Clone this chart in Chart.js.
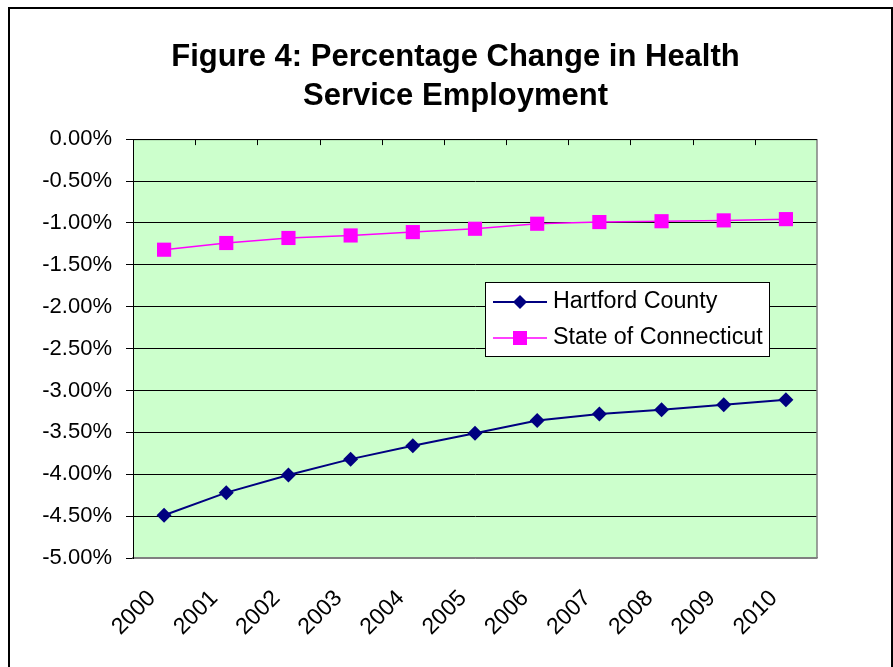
<!DOCTYPE html>
<html>
<head>
<meta charset="utf-8">
<title>Figure 4</title>
<script src="https://cdn.jsdelivr.net/npm/chart.js"></script>
<style>
    html, body { margin: 0; padding: 0; background: #fff; }
    .frame {
        position: absolute; left: 8px; top: 7px; width: 881px; height: 700px;
        border: 2px solid #000;
    }
    .wrap { position: absolute; left: 0; top: 0; width: 893px; height: 667px; }
</style>
</head>
<body>
<div class="frame"></div>
<div class="wrap"><canvas id="healthChart"></canvas></div>
<script>
// Chart data
const years = ['2000', '2001', '2002', '2003', '2004', '2005', '2006', '2007', '2008', '2009', '2010'];
const hartfordCounty = [-4.49, -4.22, -4.01, -3.82, -3.66, -3.51, -3.36, -3.28, -3.23, -3.17, -3.11];
const stateOfConnecticut = [-1.32, -1.24, -1.18, -1.15, -1.11, -1.07, -1.01, -0.99, -0.98, -0.97, -0.955];
const yMin = -5, yMax = 0, yStep = 0.5;

const FONT = 'Arial, "Liberation Sans", sans-serif';

// Green plot area, gray right edge, tick marks hanging from the zero line
const plotArea = {
    id: 'plotArea',
    beforeDraw(chart) {
        const { ctx, chartArea: a } = chart;
        ctx.save();
        ctx.fillStyle = '#CCFFCC';
        ctx.fillRect(a.left, a.top, a.right - a.left, a.bottom - a.top);
        ctx.restore();
    },
    beforeDatasetsDraw(chart) {
        const { ctx, chartArea: a } = chart;
        const x = chart.scales.x;
        ctx.save();
        ctx.strokeStyle = '#808080';
        ctx.lineWidth = 1.5;
        ctx.beginPath();
        ctx.moveTo(a.right, a.top);
        ctx.lineTo(a.right, a.bottom);
        ctx.stroke();
        ctx.strokeStyle = '#000';
        ctx.lineWidth = 1;
        ctx.beginPath();
        ctx.moveTo(a.left, a.top + 0.5);
        ctx.lineTo(a.right, a.top + 0.5);
        for (let i = 1; i < years.length; i++) {
            const px = Math.round((x.getPixelForValue(i - 1) + x.getPixelForValue(i)) / 2) + 0.5;
            ctx.moveTo(px, a.top);
            ctx.lineTo(px, a.top + 6);
        }
        ctx.stroke();
        ctx.restore();
    }
};

// Boxed legend sitting inside the plot
const boxLegend = {
    id: 'boxLegend',
    afterDraw(chart) {
        const { ctx } = chart;
        const left = 485, top = 282, w = 284, h = 74;
        ctx.save();
        ctx.fillStyle = '#fff';
        ctx.fillRect(left, top, w, h);
        ctx.strokeStyle = '#000';
        ctx.lineWidth = 1;
        ctx.strokeRect(left + 0.5, top + 0.5, w, h);
        ctx.font = '23.3px ' + FONT;
        ctx.textBaseline = 'middle';
        chart.data.datasets.forEach((ds, i) => {
            const y = top + 20 + i * 36;
            ctx.strokeStyle = ds.borderColor;
            ctx.lineWidth = ds.borderWidth;
            ctx.beginPath();
            ctx.moveTo(left + 8, y);
            ctx.lineTo(left + 62, y);
            ctx.stroke();
            const cx = left + 35;
            ctx.fillStyle = ds.pointBackgroundColor;
            ctx.beginPath();
            if (ds.pointStyle === 'rectRot') {
                ctx.moveTo(cx - 7, y); ctx.lineTo(cx, y - 7);
                ctx.lineTo(cx + 7, y); ctx.lineTo(cx, y + 7);
            } else {
                ctx.rect(cx - 7, y - 7, 14, 14);
            }
            ctx.fill();
            ctx.fillStyle = '#000';
            ctx.fillText(ds.label, left + 68, y);
        });
        ctx.restore();
    }
};

new Chart(document.getElementById('healthChart'), {
    type: 'line',
    data: {
        labels: years,
        datasets: [
            {
                label: 'Hartford County',
                data: hartfordCounty,
                borderColor: '#000080',
                backgroundColor: '#000080',
                pointBackgroundColor: '#000080',
                borderWidth: 2,
                pointStyle: 'rectRot',
                pointRadius: 7.5,
                pointBorderWidth: 0,
                tension: 0
            },
            {
                label: 'State of Connecticut',
                data: stateOfConnecticut,
                borderColor: '#FF00FF',
                backgroundColor: '#FF00FF',
                pointBackgroundColor: '#FF00FF',
                borderWidth: 1.5,
                pointStyle: 'rect',
                pointRadius: 10,
                pointBorderWidth: 0,
                tension: 0
            }
        ]
    },
    options: {
        responsive: true,
        maintainAspectRatio: false,
        animation: false,
        layout: { padding: { left: 18, right: 0, top: 0, bottom: 0 } },
        plugins: {
            legend: { display: false },
            tooltip: { enabled: false },
            title: {
                display: true,
                text: ['Figure 4: Percentage Change in Health', 'Service Employment'],
                color: '#000',
                font: { family: FONT, size: 31, weight: 'bold', lineHeight: 1.26 },
                padding: { top: 38, bottom: 23 }
            }
        },
        scales: {
            x: {
                offset: true,
                grid: { display: false },
                border: { display: true, color: '#808080', width: 1.5 },
                ticks: {
                    color: '#000',
                    font: { family: FONT, size: 23 },
                    minRotation: 45,
                    maxRotation: 45,
                    autoSkip: false,
                    padding: 19,
                    labelOffset: -12
                },
                afterFit(axis) { axis.height = 109; }
            },
            y: {
                min: yMin,
                max: yMax,
                grid: {
                    color: ctx => (ctx.tick && ctx.tick.value === yMin ? '#808080' : '#000'),
                    tickLength: 7,
                    tickColor: '#000'
                },
                border: { display: true, color: '#000', width: 1 },
                ticks: {
                    stepSize: yStep,
                    color: '#000',
                    padding: 14,
                    font: { family: FONT, size: 22 },
                    callback: v => v.toFixed(2) + '%'
                },
                afterFit(axis) { axis.width = 115; }
            },
            // empty right-hand axis that only reserves the white margin
            yRight: {
                position: 'right',
                min: yMin,
                max: yMax,
                grid: { display: false, drawTicks: false },
                border: { display: false },
                ticks: { display: false },
                afterFit(axis) { axis.width = 76; }
            }
        }
    },
    plugins: [plotArea, boxLegend]
});
</script>
</body>
</html>
